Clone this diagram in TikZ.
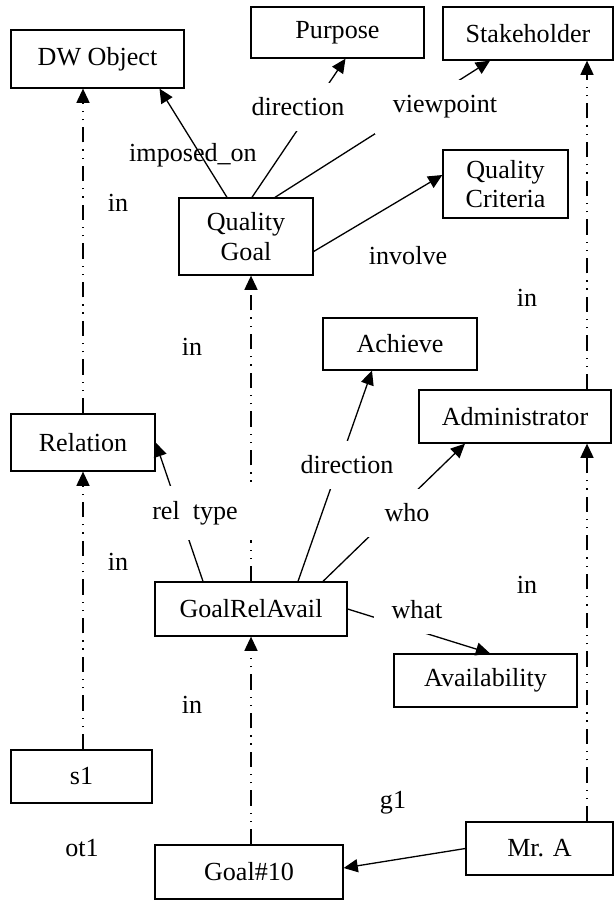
\documentclass[tikz,border=0pt]{standalone}
\usepackage{fontspec}
\setmainfont{Liberation Serif}
\usetikzlibrary{arrows.meta,positioning,calc}

\begin{document}
\begin{tikzpicture}[x=0.46pt, y=-0.46pt, line width=0.6pt,
    >={Triangle[length=6.5pt,width=6pt]},
    font=\fontsize{12}{13.5}\selectfont,
    box/.style 2 args={draw, align=center, inner sep=1pt,
        minimum width=#1*0.46pt, minimum height=#2*0.46pt},
    lbl/.style={fill=white, inner xsep=8pt, inner ysep=7pt},
    inrel/.style={->, dash pattern=on 7pt off 3.2pt on 0.6pt off 3.2pt on 0.6pt off 3.2pt}]
    \useasboundingbox (0,0) rectangle (615,901);

    % Boxes
    \node[box={173}{58}] (dw) at (97.5,59) {DW Object};
    \node[box={173}{51}] (pur) at (337.5,32.5) {Purpose};
    \node[box={170}{53}] (stk) at (528,33.5) {Stakeholder};
    \node[box={134}{77}] (qg) at (246,236.5) {Quality\\Goal};
    \node[box={125}{68}] (qc) at (505.5,184) {Quality\\Criteria};
    \node[box={154}{52}] (ach) at (400,344) {Achieve};
    \node[box={192}{53}] (adm) at (515,416.5) {Administrator};
    \node[box={144}{57}] (rel) at (83,442.5) {Relation};
    \node[box={192}{54}] (gra) at (251,609) {GoalRelAvail};
    \node[box={183}{53}] (ava) at (485.5,680.5) {Availability};
    \node[box={141}{53}] (s1) at (81.5,776.5) {s1};
    \node[box={188}{54}] (goal10) at (249,872) {Goal\#10};
    \node[box={147}{53}] (mra) at (539.5,848.5) {Mr. A};

    % Attribute links
    \draw[->] ($(qg.north)+(-19,0)$) -- ($(dw.south)+(62,0)$);
    \draw[->] ($(qg.north)+(6,0)$) -- ($(pur.south)+(8,0)$);
    \draw[->] ($(qg.north)+(29,0)$) -- ($(stk.south)+(-38,0)$);
    \draw[->] ($(qg.east)+(0,15)$) -- ($(qc.west)+(0,-9)$);
    \draw[->] ($(gra.north)+(-48,0)$) -- (rel.east);
    \draw[->] ($(gra.north)+(47,0)$) -- ($(ach.south)+(-28,0)$);
    \draw[->] ($(gra.north)+(72,0)$) -- ($(adm.south)+(-50,0)$);
    \draw[->] (gra.east) -- ($(ava.north)+(4.5,0)$);
    \draw[->] (mra.west) -- ($(goal10.east)+(0,-4)$);

    % Instance-of links
    \coordinate (inx) at (587,0);
    \draw[inrel] (rel.south |- s1.north) -- (rel.south);
    \draw[inrel] (rel.north) -- (rel.north |- dw.south);
    \draw[inrel] (gra.south |- goal10.north) -- (gra.south);
    \draw[inrel] (gra.north) -- (gra.north |- qg.south);
    \draw[inrel] (inx |- mra.north) -- (inx |- adm.south);
    \draw[inrel] (inx |- adm.north) -- (inx |- stk.south);

    % Labels
    \node (lblimp) at (193,155) {imposed\_on};
    \node[lbl] (lbldirp) at (298,107) {direction};
    \node[lbl] (lblview) at (445,107) {viewpoint};
    \node (lblinv) at (408,256) {involve};
    \node[lbl] (lbldira) at (347,465) {direction};
    \node[lbl] (lblrel) at (195,513) {rel\enspace type};
    \node[lbl] (lblwho) at (407,513) {who};
    \node[lbl] (lblwhat) at (417,610) {what};
    \node (lblg1) at (393,803) {g1};
    \node (lblot1) at (82,848) {ot1};
    \foreach \p [count=\i] in {(118,203),(527,298),(192,347),(118,562),(527,585),(192,705)}
        \node (in\i) at \p {in};
\end{tikzpicture}
\end{document}
